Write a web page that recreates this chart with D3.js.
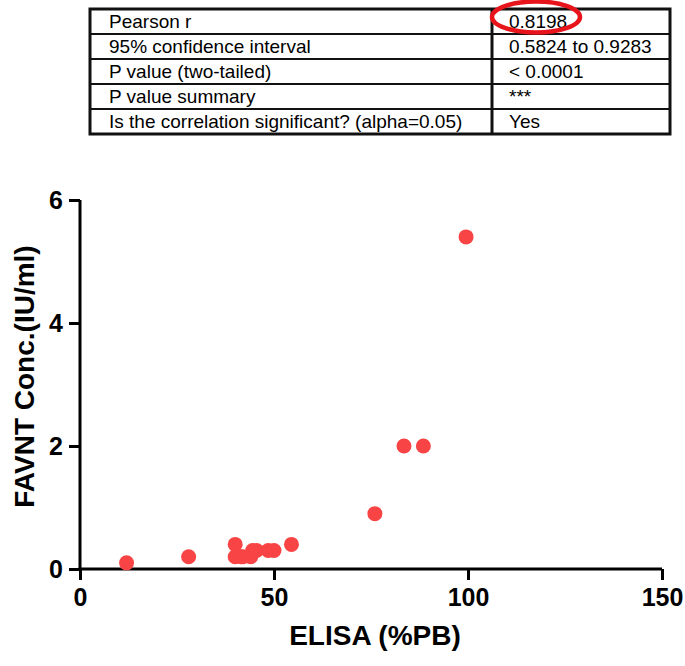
<!DOCTYPE html>
<html>
<head>
<meta charset="utf-8">
<script src="https://cdn.jsdelivr.net/npm/d3@7"></script>
<style>
  body { margin: 0; background: #fff; }
  svg { display: block; font-family: "Liberation Sans", Arial, sans-serif; }
</style>
</head>
<body>
<div id="chart"></div>
<script>
// Pearson correlation table
const statLabels = ["Pearson r", "95% confidence interval", "P value (two-tailed)", "P value summary", "Is the correlation significant? (alpha=0.05)"];
const statValues = ["0.8198", "0.5824 to 0.9283", "< 0.0001", "***", "Yes"];

// scatter data
const elisa = [12, 28, 40, 40, 41.5, 42, 44.5, 44, 45.5, 48.5, 50, 54.5, 76, 83.5, 88.5, 99.5];
const favnt = [0.1, 0.2, 0.4, 0.2, 0.2, 0.2, 0.3, 0.2, 0.3, 0.3, 0.3, 0.4, 0.9, 2, 2, 5.4];

const xTicks = [0, 50, 100, 150];
const yTicks = [0, 2, 4, 6];

const width = 685, height = 666;
const svg = d3.select("#chart").append("svg")
  .attr("width", width)
  .attr("height", height);

// ---- table ----
const tbl = { left: 90, right: 670, top: 9, rowH: 25, split: 492 };
const rowY = d3.scaleLinear().domain([0, statLabels.length]).range([tbl.top, tbl.top + tbl.rowH * statLabels.length]);

const t = svg.append("g").attr("font-size", 19).attr("fill", "#000");
t.selectAll("line.row")
  .data(d3.range(1, statLabels.length))
  .join("line")
  .attr("x1", tbl.left).attr("x2", tbl.right)
  .attr("y1", d => rowY(d)).attr("y2", d => rowY(d))
  .attr("stroke", "#111").attr("stroke-width", 2);
t.append("line")
  .attr("x1", tbl.split).attr("x2", tbl.split)
  .attr("y1", rowY(0)).attr("y2", rowY(statLabels.length))
  .attr("stroke", "#111").attr("stroke-width", 3);
t.append("rect")
  .attr("x", tbl.left).attr("y", rowY(0))
  .attr("width", tbl.right - tbl.left).attr("height", rowY(statLabels.length) - rowY(0))
  .attr("fill", "none").attr("stroke", "#111").attr("stroke-width", 3);

t.selectAll("text.lab")
  .data(statLabels)
  .join("text")
  .attr("x", tbl.left + 19)
  .attr("y", (d, i) => rowY(i + 1) - 6)
  .text(d => d);
t.selectAll("text.val")
  .data(statValues)
  .join("text")
  .attr("x", tbl.split + 17)
  .attr("y", (d, i) => rowY(i + 1) - 6)
  .text(d => d);

// red ring around r
svg.append("ellipse")
  .attr("cx", 536).attr("cy", 17)
  .attr("rx", 44).attr("ry", 15.5)
  .attr("fill", "none")
  .attr("stroke", "#e8141c")
  .attr("stroke-width", 4.5);

// ---- scatter ----
const x = d3.scaleLinear().domain([0, 150]).range([80, 662]);
const y = d3.scaleLinear().domain([0, 6]).range([569, 200]);

const xAxis = svg.append("g")
  .attr("transform", `translate(0,${y(0)})`)
  .call(d3.axisBottom(x).tickValues(xTicks).tickFormat(d3.format("d")).tickSize(11).tickSizeOuter(0).tickPadding(8));
const yAxis = svg.append("g")
  .attr("transform", `translate(${x(0)},0)`)
  .call(d3.axisLeft(y).tickValues(yTicks).tickFormat(d3.format("d")).tickSize(11).tickSizeOuter(0).tickPadding(6));

[xAxis, yAxis].forEach(g => {
  g.select(".domain").attr("stroke", "#000").attr("stroke-width", 3);
  g.selectAll(".tick line").attr("stroke", "#000").attr("stroke-width", 3);
  g.selectAll(".tick text")
    .attr("fill", "#000")
    .attr("font-size", 25)
    .attr("font-weight", "bold")
    .attr("font-family", "Liberation Sans, Arial, sans-serif");
});
// close the corner where the two axes meet
yAxis.select(".domain").attr("d", `M0,${y(6)}V${y(0) + 1.5}`);
xAxis.select(".domain").attr("d", `M${x(0) - 1.5},0H${x(150)}`);

svg.append("g")
  .selectAll("circle")
  .data(elisa)
  .join("circle")
  .attr("cx", d => x(d))
  .attr("cy", (d, i) => y(favnt[i]))
  .attr("r", 7.5)
  .attr("fill", "#f84444");

svg.append("text")
  .attr("x", 375).attr("y", 645)
  .attr("text-anchor", "middle")
  .attr("font-size", 28).attr("font-weight", "bold")
  .text("ELISA (%PB)");

svg.append("text")
  .attr("transform", `translate(34,${(y(0) + y(6)) / 2 - 8}) rotate(-90)`)
  .attr("text-anchor", "middle")
  .attr("font-size", 28).attr("font-weight", "bold")
  .text("FAVNT Conc.(IU/ml)");
</script>
</body>
</html>
